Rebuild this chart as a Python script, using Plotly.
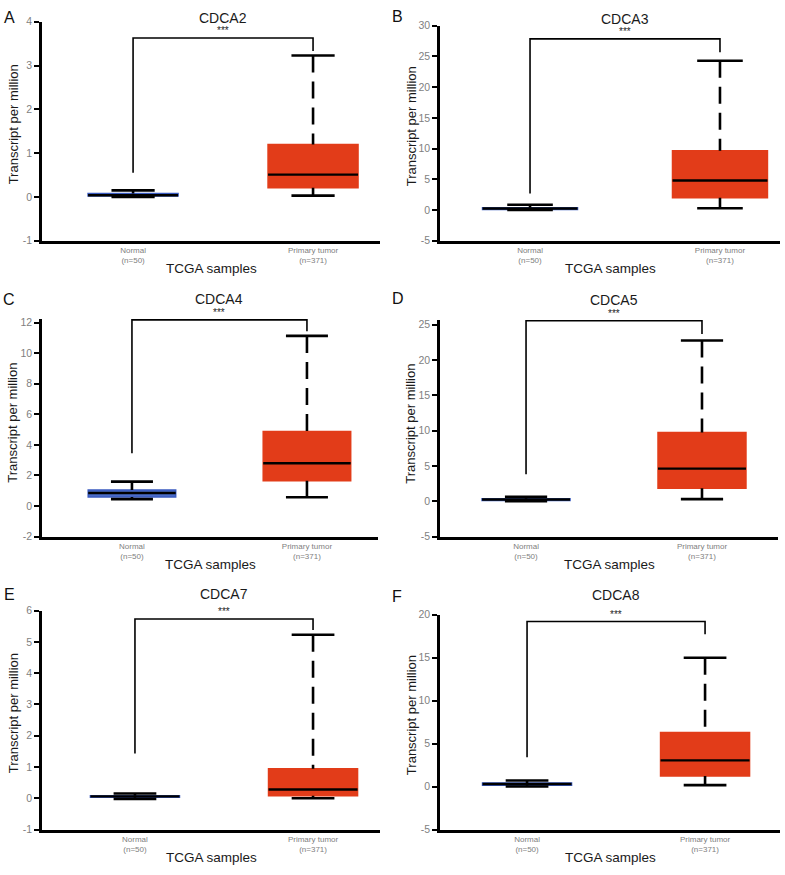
import plotly.graph_objects as go

# ---------------- data ----------------
genes = ["CDCA2", "CDCA3", "CDCA4", "CDCA5", "CDCA7", "CDCA8"]
panel_letters = ["A", "B", "C", "D", "E", "F"]
categories = ["Normal<br>(n=50)", "Primary tumor<br>(n=371)"]

normal_q1 = [0.02, 0.10, 0.60, 0.10, 0.03, 0.15]
normal_median = [0.04, 0.25, 0.85, 0.25, 0.06, 0.30]
normal_q3 = [0.08, 0.35, 1.05, 0.35, 0.08, 0.40]
normal_lower = [0.00, 0.02, 0.45, 0.00, -0.02, 0.00]
normal_upper = [0.15, 0.85, 1.60, 0.65, 0.15, 0.70]

tumor_q1 = [0.21, 1.98, 1.65, 1.83, 0.08, 1.23]
tumor_median = [0.51, 4.80, 2.80, 4.62, 0.28, 3.04]
tumor_q3 = [1.20, 9.65, 4.88, 9.73, 0.94, 6.29]
tumor_lower = [0.03, 0.30, 0.58, 0.30, 0.00, 0.17]
tumor_upper = [3.23, 24.30, 11.13, 22.75, 5.23, 14.98]

bracket_left = [0.55, 2.70, 3.45, 3.83, 1.43, 3.42]
bracket_right = [3.33, 25.70, 11.43, 23.68, 5.38, 17.70]
bracket_top = [3.63, 27.86, 12.18, 25.54, 5.73, 19.19]
significance = ["***", "***", "***", "***", "***", "***"]

y_tick_min = [-1, -5, -2, -5, -1, -5]
y_tick_max = [4, 30, 12, 25, 6, 20]
y_tick_step = [1, 5, 2, 5, 1, 5]

# ---------------- layout geometry (pixels) ----------------
W, H = 785, 875
# (axis left, axis right, pixel of top tick, axis bottom)
panel_px = [
    (42, 380, 16, 238),
    (440, 780, 20, 238),
    (42, 378, 321, 538),
    (440, 778, 323, 538),
    (42, 380, 613, 835),
    (440, 780, 617, 835),
]
x_ranges = [
    [-0.506, 1.372], [-0.474, 1.316], [-0.514, 1.406],
    [-0.489, 1.432], [-0.522, 1.376], [-0.489, 1.421],
]
title_y = [12, 13, 297, 298, 596, 597]
letter_pos = [(9, 12), (397, 11), (9, 298), (398, 297), (9, 597), (397, 599)]


def px(x):
    return x / W


def py(y):
    return 1 - y / H


RED = "#e23c19"
BLUE = "#4a6cc8"
BLUE_EDGE = "#3a5bc0"
FONT = "Liberation Sans, Arial, sans-serif"
DASH = "17px,9px"
BOX_W = 0.5
CAP_W = 0.24

fig = go.Figure()
annotations = []
layout_axes = {}

for i in range(6):
    s = "" if i == 0 else str(i + 1)
    xa, ya = "x" + s, "y" + s
    l, r, t, b = panel_px[i]

    # keep the bracket inside the plotting area when it sits above the top tick
    span = y_tick_max[i] - y_tick_min[i]
    y_top = max(y_tick_max[i], bracket_top[i] + 0.005 * span)
    pix_per_unit = (b - t) / span
    t_dom = t - (y_top - y_tick_max[i]) * pix_per_unit

    groups = [
        (0, normal_q1[i], normal_median[i], normal_q3[i], normal_lower[i], normal_upper[i], BLUE, BLUE_EDGE),
        (1, tumor_q1[i], tumor_median[i], tumor_q3[i], tumor_lower[i], tumor_upper[i], RED, RED),
    ]
    for k, q1, med, q3, lo, hi, fill, edge in groups:
        fig.add_trace(go.Box(
            x=[k], q1=[q1], median=[med], q3=[q3], lowerfence=[q1], upperfence=[q3],
            width=BOX_W, fillcolor=fill, line=dict(color=edge, width=1.5),
            whiskerwidth=0, boxpoints=False, showlegend=False,
            xaxis=xa, yaxis=ya, hoverinfo="skip",
        ))
        # whiskers (dashed)
        fig.add_trace(go.Scatter(
            x=[k, k, None, k, k], y=[hi, q3, None, q1, lo], mode="lines",
            line=dict(color="black", width=2.6, dash=DASH),
            showlegend=False, xaxis=xa, yaxis=ya, hoverinfo="skip",
        ))
        # caps
        fig.add_trace(go.Scatter(
            x=[k - CAP_W / 2, k + CAP_W / 2, None, k - CAP_W / 2, k + CAP_W / 2],
            y=[hi, hi, None, lo, lo], mode="lines",
            line=dict(color="black", width=2.6),
            showlegend=False, xaxis=xa, yaxis=ya, hoverinfo="skip",
        ))
        # median
        fig.add_trace(go.Scatter(
            x=[k - BOX_W / 2, k + BOX_W / 2], y=[med, med], mode="lines",
            line=dict(color="black", width=2.4),
            showlegend=False, xaxis=xa, yaxis=ya, hoverinfo="skip",
        ))

    # significance bracket
    fig.add_trace(go.Scatter(
        x=[0, 0, 1, 1], y=[bracket_left[i], bracket_top[i], bracket_top[i], bracket_right[i]],
        mode="lines", line=dict(color="black", width=1.6),
        showlegend=False, xaxis=xa, yaxis=ya, hoverinfo="skip", cliponaxis=False,
    ))
    annotations.append(dict(
        x=0.5, y=bracket_top[i], xref=xa, yref=ya, text=significance[i],
        showarrow=False, yanchor="bottom", yshift=0,
        font=dict(family=FONT, size=10, color="#222"),
    ))

    # axes
    yt = list(range(y_tick_min[i], y_tick_max[i] + 1, y_tick_step[i]))
    layout_axes["xaxis" + s] = dict(
        domain=[px(l), px(r)], range=x_ranges[i], anchor=ya,
        tickmode="array", tickvals=[0, 1], ticktext=categories,
        ticks="", showline=True, linecolor="black", linewidth=2.5,
        showgrid=False, zeroline=False,
        tickfont=dict(family=FONT, size=8, color="#808080"),
        fixedrange=True,
    )
    layout_axes["yaxis" + s] = dict(
        domain=[py(b), py(t_dom)], range=[y_tick_min[i], y_top], anchor=xa,
        tickmode="array", tickvals=yt, ticktext=[str(v) for v in yt],
        ticks="outside", ticklen=5, tickwidth=2, tickcolor="black",
        showline=True, linecolor="black", linewidth=2.5,
        showgrid=False, zeroline=False,
        tickfont=dict(family=FONT, size=10.5, color="#7f7f7f"),
        fixedrange=True,
    )

    # panel title
    annotations.append(dict(
        x=0.5, y=py(title_y[i]), xref=xa, yref="paper", text=genes[i],
        showarrow=False, yanchor="middle", xanchor="center",
        font=dict(family=FONT, size=14, color="#1a1a1a"),
    ))
    # panel letter
    lx, ly = letter_pos[i]
    annotations.append(dict(
        x=px(lx), y=py(ly), xref="paper", yref="paper", text=panel_letters[i],
        showarrow=False, yanchor="middle", xanchor="center",
        font=dict(family=FONT, size=16, color="#111"),
    ))
    # y-axis title
    annotations.append(dict(
        x=px(l - 29), y=py((t + b) / 2 - 7), xref="paper", yref="paper",
        text="Transcript per million", textangle=-90,
        showarrow=False, yanchor="middle", xanchor="center",
        font=dict(family=FONT, size=13, color="#1a1a1a"),
    ))
    # x-axis title
    annotations.append(dict(
        x=px((l + r) / 2), y=py(b + 28), xref="paper", yref="paper",
        text="TCGA samples", showarrow=False, yanchor="middle", xanchor="center",
        font=dict(family=FONT, size=13.5, color="#1a1a1a"),
    ))

fig.update_layout(
    width=W, height=H, margin=dict(l=0, r=0, t=0, b=0),
    paper_bgcolor="white", plot_bgcolor="white",
    showlegend=False, annotations=annotations, **layout_axes,
)

fig.write_html(
    "out.html",
    config={"displayModeBar": False},
    post_script="document.body.style.margin='0px';",
)
